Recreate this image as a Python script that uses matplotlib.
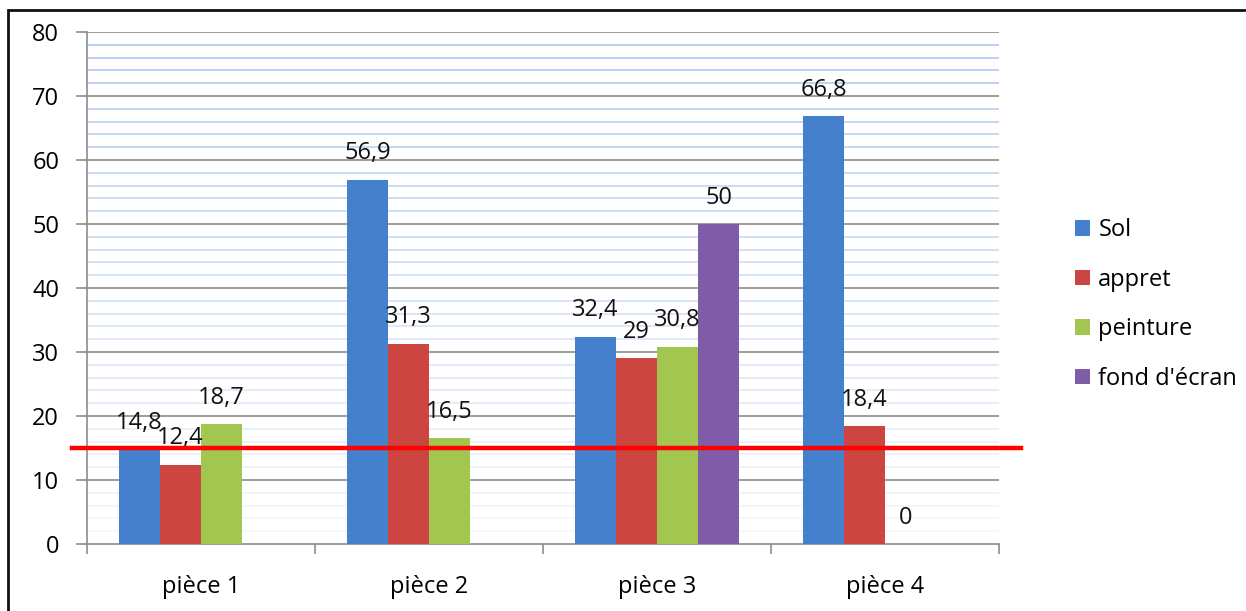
import numpy as np
import matplotlib

matplotlib.use("Agg")
import matplotlib.pyplot as plt
from matplotlib.patches import Rectangle

plt.rcParams["font.family"] = ["Open Sans", "DejaVu Sans"]

rooms = ["pièce 1", "pièce 2", "pièce 3", "pièce 4"]
series_names = ["Sol", "appret", "peinture", "fond d'écran"]
sol = [14.8, 56.9, 32.4, 66.8]
appret = [12.4, 31.3, 29, 18.4]
peinture = [18.7, 16.5, 30.8, 0]
fond_ecran = [None, None, 50, None]
threshold = 15

colors = ["#4480cc", "#cc4540", "#a3c650", "#7f5ca8"]
FS = 17


def fmt(v):
    s = f"{v:g}"
    return s.replace(".", ",")


fig = plt.figure(figsize=(12.46, 6.11), dpi=100)
W, H = 1246, 611
ax = fig.add_axes([87 / W, (H - 544) / H, 912 / W, 512 / H])

x = np.arange(len(rooms))
bar_w = 0.18
offsets = (np.arange(4) - 1.5) * bar_w

for i, (name, vals) in enumerate(zip(series_names, [sol, appret, peinture, fond_ecran])):
    xs = [xi + offsets[i] for xi, v in zip(x, vals) if v is not None]
    ys = [v for v in vals if v is not None]
    ax.bar(xs, ys, width=bar_w, color=colors[i], label=name, zorder=3)
    for xv, yv in zip(xs, ys):
        ax.annotate(fmt(yv), (xv, yv), xytext=(0, 19), textcoords="offset points",
                    ha="center", va="center", fontsize=FS, color="#111111", zorder=5)

ax.set_xlim(-0.5, 3.5)
ax.set_ylim(0, 80)

# minor grid, fading toward the bottom
for yv in np.arange(2, 80, 2):
    if yv % 10 == 0:
        continue
    a = 0.12 + 0.88 * (yv / 80)
    ax.axhline(yv, color="#a9c9f0", alpha=a, lw=1.2, zorder=1)
for yv in range(10, 81, 10):
    ax.axhline(yv, color="#8c8c8c", lw=1.2, zorder=2)

for side in ["top", "right"]:
    ax.spines[side].set_visible(False)
ax.spines["left"].set_color("#8c8c8c")
ax.spines["bottom"].set_color("#8c8c8c")
ax.spines["left"].set_linewidth(1.2)
ax.spines["bottom"].set_linewidth(1.2)

ax.set_yticks(range(0, 81, 10))
ax.set_xticks(x)
ax.set_xticklabels(rooms)
ax.set_xticks(np.arange(-0.5, 3.6, 1), minor=True)
ax.tick_params(axis="x", which="major", length=0, pad=22, labelsize=FS)
ax.tick_params(axis="x", which="minor", length=7, width=1.2, color="#8c8c8c")
ax.tick_params(axis="y", length=8, width=1.2, color="#8c8c8c", pad=12, labelsize=FS)

# threshold line, extending past the plot area
x0 = ax.transData.inverted().transform((72, 0))[0]
x1 = ax.transData.inverted().transform((1021, 0))[0]
ax.plot([x0, x1], [threshold, threshold], color="#ff0000", lw=3.2, zorder=6,
        clip_on=False)
ax.set_xlim(-0.5, 3.5)

fig.legend(loc="upper left", bbox_to_anchor=(1066 / W, 1 - 209 / H), frameon=False,
           fontsize=FS, handlelength=0.62, handleheight=0.62, handletextpad=0.35,
           labelspacing=1.08, borderaxespad=0)

fig.add_artist(Rectangle((8 / W, -0.1), 1.2, 1 - 10 / H + 0.1, transform=fig.transFigure,
                         fill=False, edgecolor="#111111", lw=2))

fig.savefig("out.png", dpi=100)
